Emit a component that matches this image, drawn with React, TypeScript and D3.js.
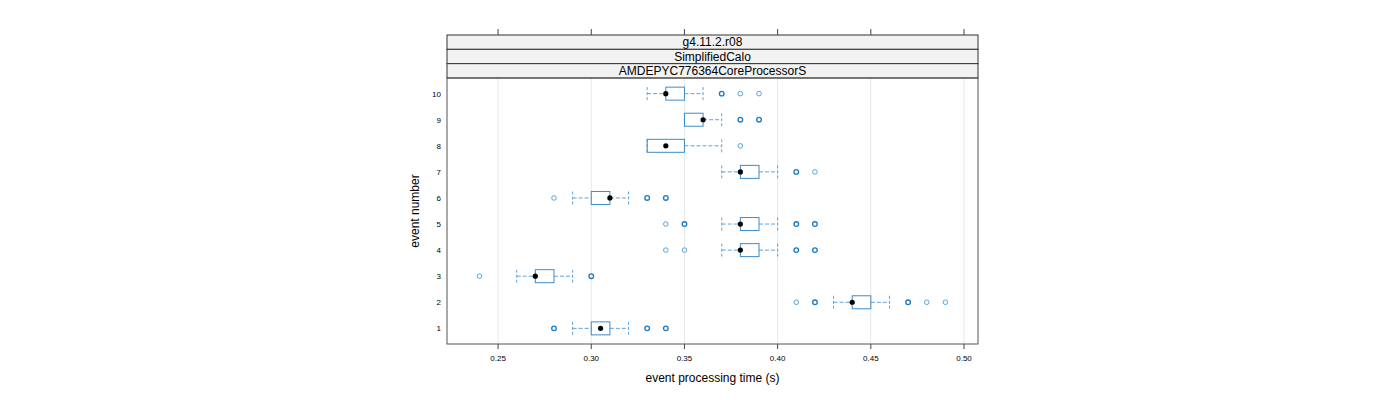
import React from "react";
import * as d3 from "d3";

const events = [1, 2, 3, 4, 5, 6, 7, 8, 9, 10];
// [whiskerLow, q1, median, q3, whiskerHigh]
const stats: number[][] = [
  [0.29, 0.30, 0.305, 0.31, 0.32],
  [0.43, 0.44, 0.44, 0.45, 0.46],
  [0.26, 0.27, 0.27, 0.28, 0.29],
  [0.37, 0.38, 0.38, 0.39, 0.40],
  [0.37, 0.38, 0.38, 0.39, 0.40],
  [0.29, 0.30, 0.31, 0.31, 0.32],
  [0.37, 0.38, 0.38, 0.39, 0.40],
  [0.33, 0.33, 0.34, 0.35, 0.37],
  [0.35, 0.35, 0.36, 0.36, 0.37],
  [0.33, 0.34, 0.34, 0.35, 0.36],
];
// outliers: [value, count]
const outliers: [number, number][][] = [
  [[0.28, 2], [0.33, 2], [0.34, 2]],
  [[0.41, 1], [0.42, 2], [0.47, 3], [0.48, 1], [0.49, 1]],
  [[0.24, 1], [0.30, 3]],
  [[0.34, 1], [0.35, 1], [0.41, 2], [0.42, 2]],
  [[0.34, 1], [0.35, 2], [0.41, 2], [0.42, 2]],
  [[0.28, 1], [0.33, 3], [0.34, 2]],
  [[0.41, 3], [0.42, 1]],
  [[0.38, 1]],
  [[0.38, 2], [0.39, 3]],
  [[0.37, 3], [0.38, 1], [0.39, 1]],
];
const xTicks = [0.25, 0.3, 0.35, 0.4, 0.45, 0.5];
const strips = ["g4.11.2.r08", "SimplifiedCalo", "AMDEPYC776364CoreProcessorS"];

export default function App() {
  const left = 447, right = 978, top = 78, bottom = 344;
  const stripTop = 35, stripH = 14.33;
  const x = d3.scaleLinear().domain([0.2226, 0.5075]).range([left, right]);
  const y = d3.scaleLinear().domain([0.4, 10.6]).range([bottom, top]);
  const blue = "#3a8ccc";
  const light = "#4f9ad4";
  const font = "Liberation Sans, Arial, sans-serif";
  const bh = 6.5;
  return (
    <svg width={1400} height={400} style={{ position: "absolute", left: 0, top: 0 }} fontFamily={font}>
      <rect width={1400} height={400} fill="white" />
      {xTicks.map((t) => (
        <line key={"g" + t} x1={x(t)} x2={x(t)} y1={top} y2={bottom} stroke="#e8e8e8" strokeWidth={1} />
      ))}
      {strips.map((s, i) => (
        <g key={s}>
          <rect x={left} y={stripTop + i * stripH} width={right - left} height={stripH} fill="#f2f2f2" stroke="#333" strokeWidth={1} />
          <text x={(left + right) / 2} y={stripTop + i * stripH + stripH / 2 + 4.3} textAnchor="middle" fontSize={12} fill="#000">{s}</text>
        </g>
      ))}
      <rect x={left} y={top} width={right - left} height={bottom - top} fill="none" stroke="#555" strokeWidth={1} />
      {xTicks.map((t) => (
        <g key={"t" + t}>
          <line x1={x(t)} x2={x(t)} y1={bottom} y2={bottom + 5} stroke="#444" />
          <line x1={x(t)} x2={x(t)} y1={stripTop - 6} y2={stripTop} stroke="#444" />
          <text x={x(t)} y={361} textAnchor="middle" fontSize={8} fill="#000">{t.toFixed(2)}</text>
        </g>
      ))}
      {events.map((e) => (
        <text key={"y" + e} x={441} y={y(e) + 3} textAnchor="end" fontSize={8} fill="#000">{e}</text>
      ))}
      {events.map((e, i) => {
        const [wl, q1, med, q3, wh] = stats[i];
        const cy = y(e);
        return (
          <g key={"b" + e}>
            <line x1={x(wl)} x2={x(q1)} y1={cy} y2={cy} stroke={light} strokeDasharray="4,2" strokeWidth={0.9} />
            <line x1={x(q3)} x2={x(wh)} y1={cy} y2={cy} stroke={light} strokeDasharray="4,2" strokeWidth={0.9} />
            <line x1={x(wl)} x2={x(wl)} y1={cy - bh} y2={cy + bh} stroke={light} strokeDasharray="3,2" strokeWidth={0.9} />
            <line x1={x(wh)} x2={x(wh)} y1={cy - bh} y2={cy + bh} stroke={light} strokeDasharray="3,2" strokeWidth={0.9} />
            <rect x={x(q1)} y={cy - bh} width={x(q3) - x(q1)} height={2 * bh} fill="none" stroke={blue} strokeWidth={1} />
            <circle cx={x(med)} cy={cy} r={2.6} fill="#000" />
            {outliers[i].map(([v, c]) => (
              <circle key={v} cx={x(v)} cy={cy} r={2.3} fill="none" stroke={c > 1 ? "#1f7bc2" : "#4a9bd4"} strokeWidth={c > 1 ? 1.35 : 0.9} />
            ))}
          </g>
        );
      })}
      <text x={(left + right) / 2} y={382} textAnchor="middle" fontSize={12} fill="#000">event processing time (s)</text>
      <text transform={`translate(419,${(top + bottom) / 2}) rotate(-90)`} textAnchor="middle" fontSize={12} fill="#000">event number</text>
    </svg>
  );
}
